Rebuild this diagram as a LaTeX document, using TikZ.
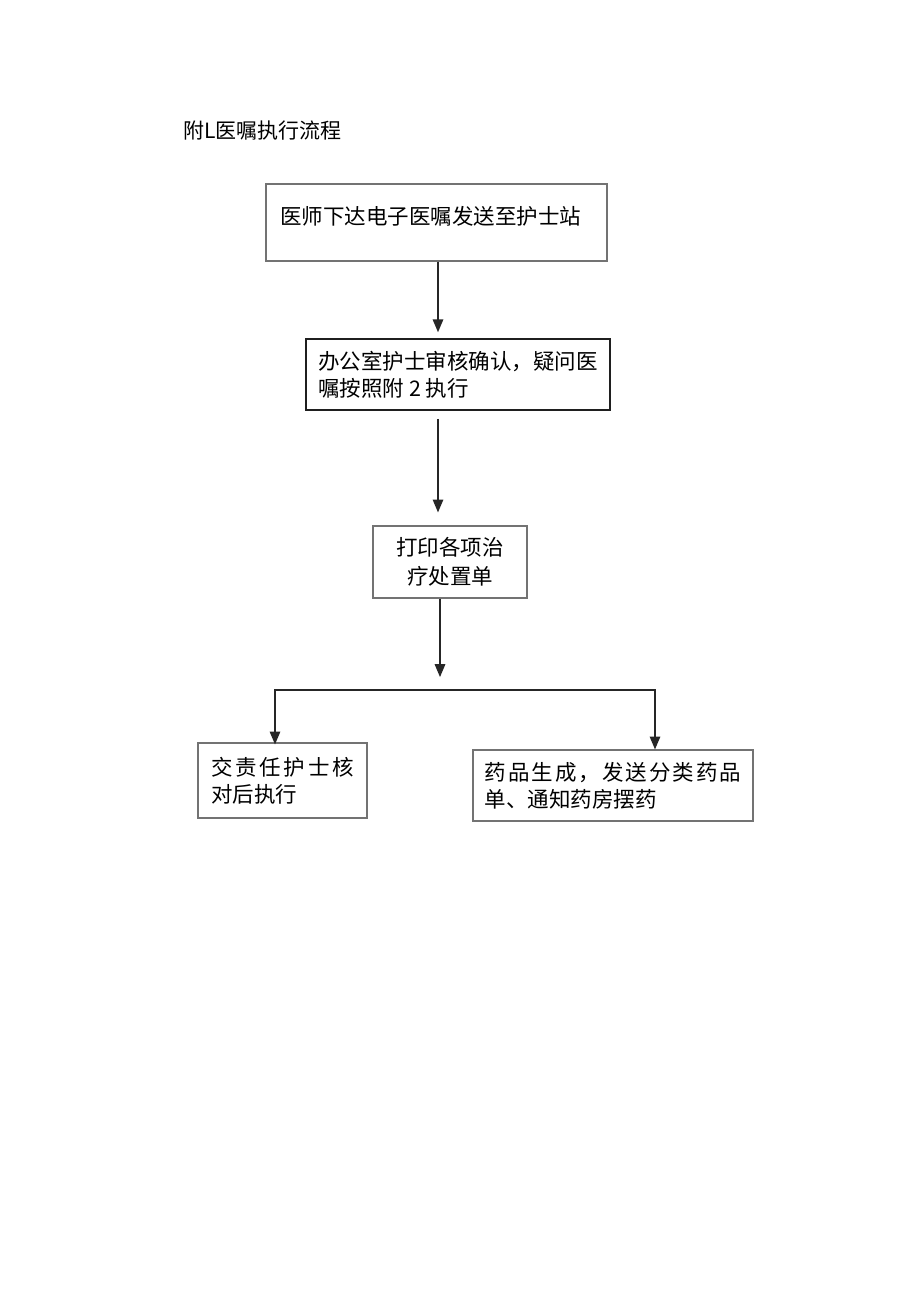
\documentclass[tikz,border=0pt]{standalone}
\usepackage{fontspec}
\setmainfont{Noto Sans CJK SC}
\usepackage{tikz}
\usetikzlibrary{arrows}

\definecolor{framegray}{gray}{0.45}
\definecolor{framedark}{gray}{0.12}
\definecolor{flowline}{gray}{0.15}

% spread the characters of one line over a given width
\newcommand\spreadline[2]{\makebox[#1][s]{\spreadfirst#2\relax}}
\def\spreadfirst#1{#1\spreadrest}
\def\spreadrest#1{\ifx#1\relax\else\hfil#1\expandafter\spreadrest\fi}

\tikzset{
  flowbox/.style={draw=framegray,line width=1.3pt,rectangle,inner sep=0pt,align=left,
    font=\fontsize{21.5pt}{27pt}\selectfont},
  flowboxdark/.style={flowbox,draw=framedark,line width=1.6pt},
  flowarrow/.style={->,draw=flowline,line width=2pt}
}

\begin{document}
\begin{tikzpicture}[line join=miter,>=triangle 45,x=1pt,y=-1pt]
        \fill[white] (0,0) rectangle (920,1301);
        \useasboundingbox (0,0) rectangle (920,1301);
        \node[anchor=west,inner sep=0pt,font=\fontsize{21pt}{25pt}\selectfont] (title) at (183,131) {附L医嘱执行流程};
        \node[flowbox,minimum width=341,minimum height=77,text width=313pt,text depth=16pt,text height=19pt] (order) at (436.5,222.5) {医师下达电子医嘱发送至护士站};
        \node[flowboxdark,minimum width=304,minimum height=71] (audit) at (458,374.5) {办公室护士审核确认，疑问医\\嘱按照附 2 执行};
        \node[flowbox,align=center,minimum width=154,minimum height=72,font=\fontsize{21.5pt}{29pt}\selectfont] (print) at (450,562) {打印各项治\\疗处置单};
        \node[flowbox,minimum width=169,minimum height=75] (nurse) at (282.5,780.5) {\spreadline{143pt}{交责任护士核}\\对后执行};
        \node[flowbox,minimum width=280,minimum height=71] (pharmacy) at (613,785.5) {\spreadline{257pt}{药品生成，发送分类药品}\\单、通知药房摆药};
        \coordinate (trunk) at (438,0);
        \coordinate (split) at (440,677);
        \coordinate (branchL) at (275,690);
        \coordinate (branchR) at (655,690);
        \draw [flowarrow,shorten >=6pt] (trunk |- order.south) -- (trunk |- audit.north);
        \draw [flowarrow,shorten <=8pt,shorten >=13pt] (trunk |- audit.south) -- (trunk |- print.north);
        \draw [flowarrow] (split |- print.south) -- (split);
        \draw [flowarrow,<->] ([yshift=-2pt]nurse.north -| branchL) -- (branchL) -- (branchR) -- (branchR |- pharmacy.north);
    \end{tikzpicture}
\end{document}
